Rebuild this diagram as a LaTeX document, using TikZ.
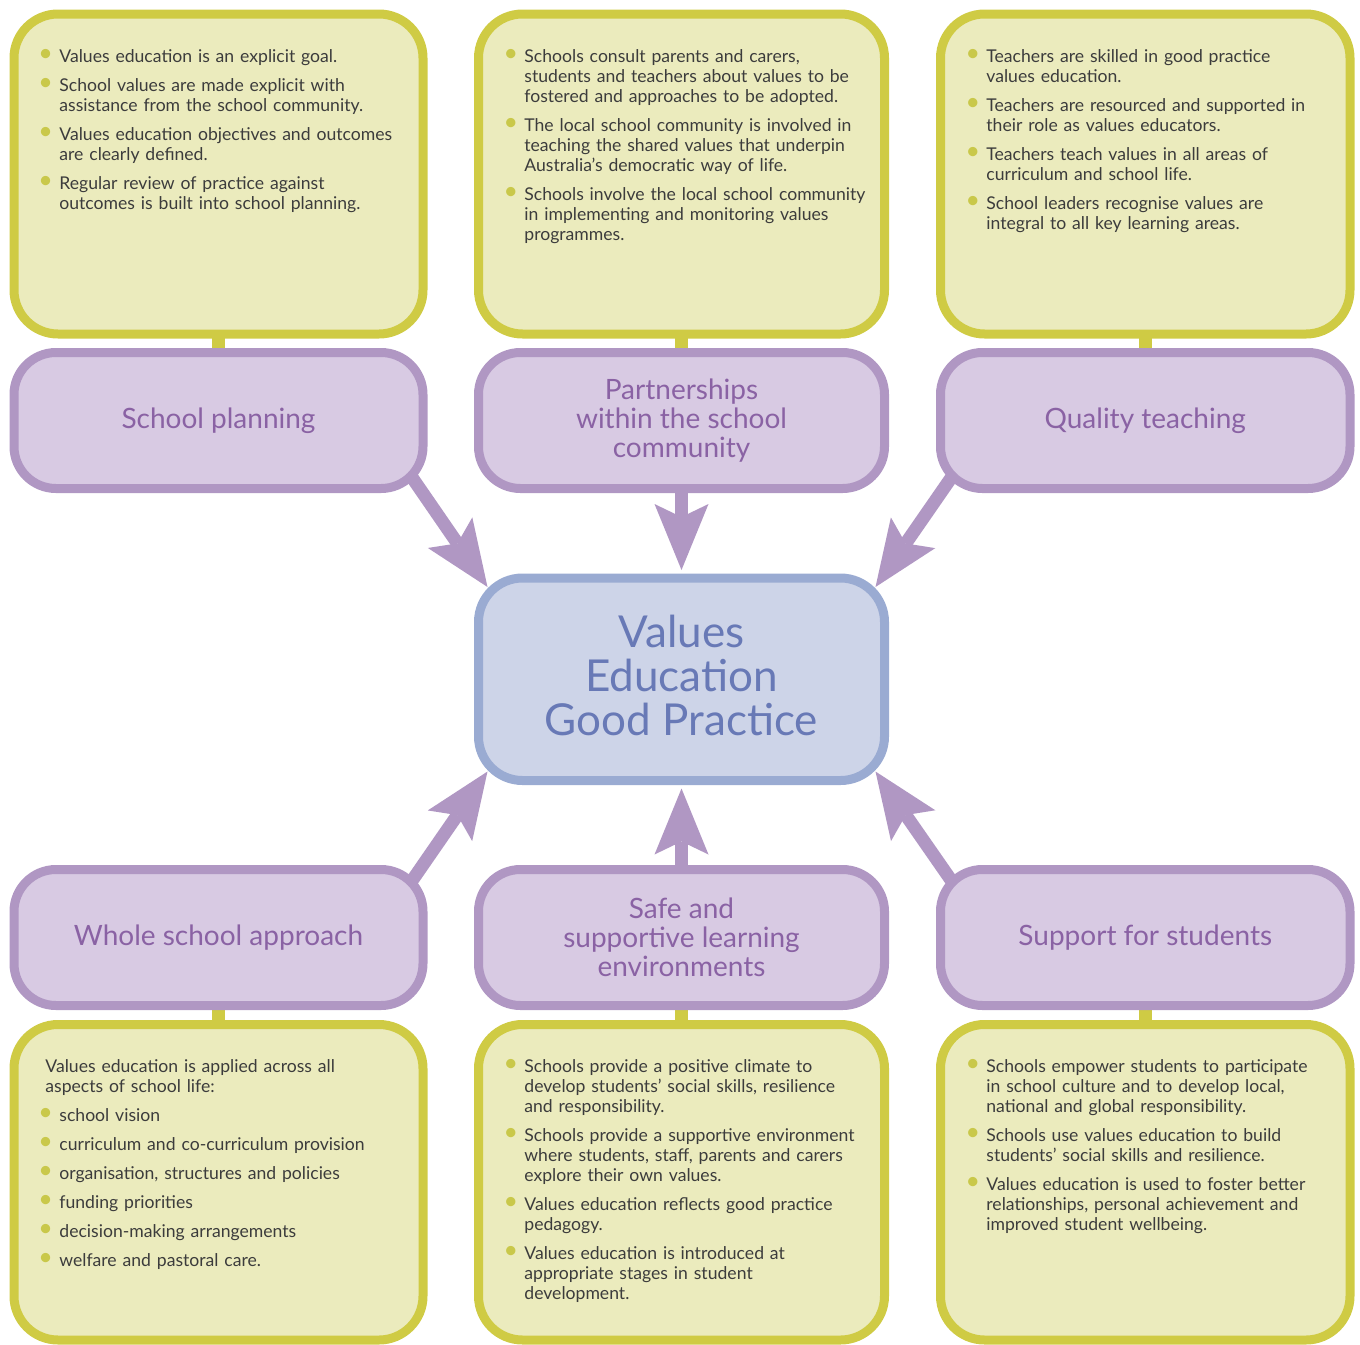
\documentclass[tikz,border=0pt]{standalone}
\usepackage{fontspec}
\setmainfont{Lato}
\usetikzlibrary{arrows.meta,calc,backgrounds}

\definecolor{yline}{HTML}{CFCB44}
\definecolor{yfill}{HTML}{EBEBBD}
\definecolor{pline}{HTML}{B097C3}
\definecolor{pfill}{HTML}{D8CAE3}
\definecolor{ptext}{HTML}{8A62A4}
\definecolor{bline}{HTML}{9AABD2}
\definecolor{bfill}{HTML}{CDD4E8}
\definecolor{btext}{HTML}{6879B6}
\definecolor{bodytext}{HTML}{3C3C3C}
\definecolor{ybul}{HTML}{C9C84A}

% bullet dot and bullet item for the note lists
\newcommand\bdot{\textcolor{ybul}{\raisebox{0.3pt}{\fontsize{12.5}{12}\selectfont\textbullet}}}
\newcommand\bitem[1]{\noindent\llap{\bdot\hspace{3.2pt}}#1\par}

\tikzset{
  notebox/.style={draw=yline, fill=yfill, line width=4.5pt, rounded corners=22pt,
    outer sep=0pt, inner sep=0pt, minimum height=160pt},
  topicbox/.style={draw=pline, fill=pfill, line width=4.5pt, rounded corners=21pt,
    outer sep=0pt, inner sep=0pt, minimum height=68pt, align=center,
    text=ptext, font=\fontsize{14}{14.5}\selectfont},
  hubbox/.style={draw=bline, fill=bfill, line width=4.5pt, rounded corners=22pt,
    outer sep=0pt, inner sep=0pt},
  hubtext/.style={align=center, inner sep=0pt, text=btext,
    font=\fontsize{22}{22}\selectfont},
  notetext/.style={anchor=base west, inner sep=0pt, text width=190pt, text=bodytext,
    font=\fontsize{8.8}{10}\selectfont,
    execute at begin node={\setlength{\parskip}{4.5pt}\raggedright}},
  link/.style={yline, line width=6.5pt},
  flow/.style={pline, line width=6.5pt,
    -{Stealth[length=33pt, width=27pt, inset=6.5pt, line width=0pt]}},
}

\begin{document}
\begin{tikzpicture}[x=0.5pt, y=-0.5pt]
\useasboundingbox (0,0) rectangle (1360,1344);

% top row of notes
\node[notebox, minimum width=204.5pt]  (n1) at (218.5,174) {};
\node[notebox, minimum width=203pt]    (n2) at (681.5,174) {};
\node[notebox, minimum width=204.75pt] (n3) at (1145.25,174) {};

% top row of topics
\node[topicbox, minimum width=204.5pt]  (t1) at (218.5,420.5) {School planning};
\node[topicbox, minimum width=203pt]    (t2) at (681.5,420.5) {Partnerships\\within the school\\community};
\node[topicbox, minimum width=204.75pt] (t3) at (1145.25,420.5) {Quality teaching};

% hub and its title
\node[hubbox, minimum width=203pt, minimum height=101.25pt] (hub) at (681.5,679.25) {};
\node[hubtext] (hubtitle) at ($(hub.center)+(0,-4)$) {Values\\Education\\Good Practice};

% bottom row of topics
\node[topicbox, minimum width=204.5pt]  (b1) at (218.5,937.5) {Whole school approach};
\node[topicbox, minimum width=203pt]    (b2) at (681.5,937.5) {Safe and\\supportive learning\\environments};
\node[topicbox, minimum width=204.75pt] (b3) at (1145.25,937.5) {Support for students};

% bottom row of notes
\node[notebox, minimum width=204.5pt,  minimum height=157.75pt] (m1) at (218.5,1182.25) {};
\node[notebox, minimum width=203pt,    minimum height=157.75pt] (m2) at (681.5,1182.25) {};
\node[notebox, minimum width=204.75pt, minimum height=157.75pt] (m3) at (1145.25,1182.25) {};

% note texts
\node[notetext] (n1txt) at (59,62) {%
  \bitem{Values education is an explicit goal.}
  \bitem{School values are made explicit with\\assistance from the school community.}
  \bitem{Values education objectives and outcomes\\are clearly defined.}
  \bitem{Regular review of practice against\\outcomes is built into school planning.}};

\node[notetext] (n2txt) at (524,62) {%
  \bitem{Schools consult parents and carers,\\students and teachers about values to be\\fostered and approaches to be adopted.}
  \bitem{The local school community is involved in\\teaching the shared values that underpin\\Australia’s democratic way of life.}
  \bitem{Schools involve the local school community\\in implementing and monitoring values\\programmes.}};

\node[notetext] (n3txt) at (986,62) {%
  \bitem{Teachers are skilled in good practice\\values education.}
  \bitem{Teachers are resourced and supported in\\their role as values educators.}
  \bitem{Teachers teach values in all areas of\\curriculum and school life.}
  \bitem{School leaders recognise values are\\integral to all key learning areas.}};

\node[notetext] (m1txt) at (59,1072) {%
  \noindent\hspace*{-7pt}Values education is applied across all\\\hspace*{-7pt}aspects of school life:\par
  \bitem{school vision}
  \bitem{curriculum and co-curriculum provision}
  \bitem{organisation, structures and policies}
  \bitem{funding priorities}
  \bitem{decision-making arrangements}
  \bitem{welfare and pastoral care.}};

\node[notetext] (m2txt) at (524,1072) {%
  \bitem{Schools provide a positive climate to\\develop students’ social skills, resilience\\and responsibility.}
  \bitem{Schools provide a supportive environment\\where students, staff, parents and carers\\explore their own values.}
  \bitem{Values education reflects good practice\\pedagogy.}
  \bitem{Values education is introduced at\\appropriate stages in student\\development.}};

\node[notetext] (m3txt) at (986,1072) {%
  \bitem{Schools empower students to participate\\in school culture and to develop local,\\national and global responsibility.}
  \bitem{Schools use values education to build\\students’ social skills and resilience.}
  \bitem{Values education is used to foster better\\relationships, personal achievement and\\improved student wellbeing.}};

\begin{pgfonlayer}{background}
  % short links between notes and topics
  \draw[link] (n1) -- (t1);
  \draw[link] (n2) -- (t2);
  \draw[link] (n3) -- (t3);
  \draw[link] (m1) -- (b1);
  \draw[link] (m2) -- (b2);
  \draw[link] (m3) -- (b3);
  % arrows into the hub
  \draw[flow] ($(t1.south east)+(-24,-30)$) -- ($(hub.north west)+(9,9)$);
  \draw[flow] (t2) -- ($(hub.north)+(0,-8)$);
  \draw[flow] ($(t3.south west)+(24,-30)$) -- ($(hub.north east)+(-9,9)$);
  \draw[flow] ($(b1.north east)+(-24,30)$) -- ($(hub.south west)+(9,-9)$);
  \draw[flow] (b2) -- ($(hub.south)+(0,8)$);
  \draw[flow] ($(b3.north west)+(24,30)$) -- ($(hub.south east)+(-9,-9)$);
\end{pgfonlayer}
\end{tikzpicture}
\end{document}
